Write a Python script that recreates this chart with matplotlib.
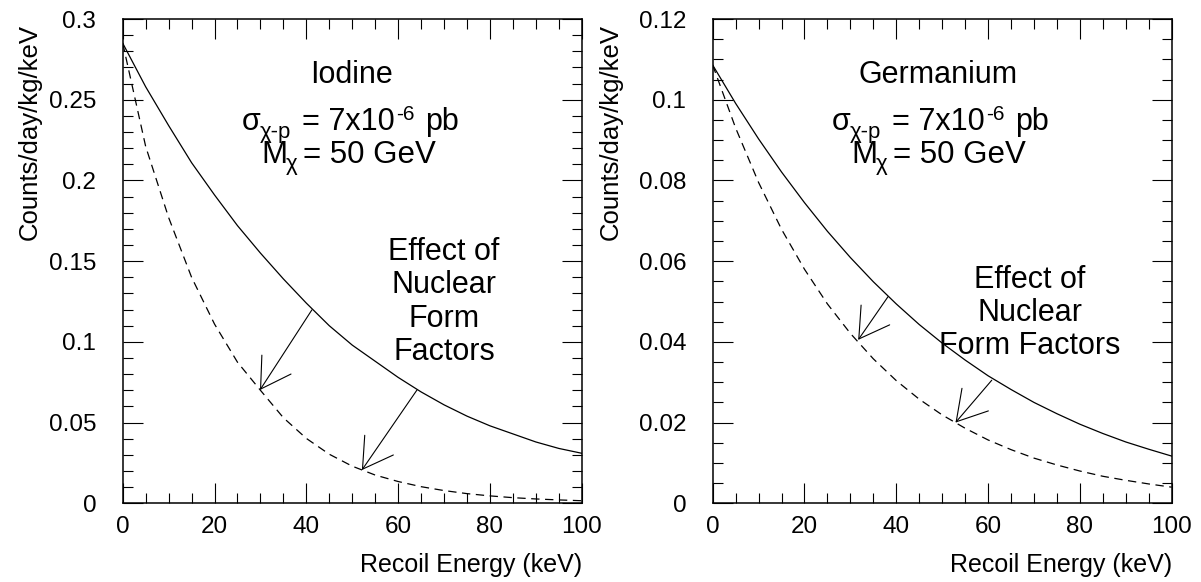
import matplotlib
matplotlib.use("Agg")
import matplotlib.pyplot as plt
from matplotlib.ticker import MultipleLocator, FixedLocator

plt.rcParams['font.family'] = ['Liberation Sans', 'DejaVu Sans']
plt.rcParams['lines.scale_dashes'] = False

# recoil energy grid (keV)
energy = [0, 5, 10, 15, 20, 25, 30, 35, 40, 45, 50,
          55, 60, 65, 70, 75, 80, 85, 90, 95, 100]

# iodine: point-like nucleus vs with nuclear form factor
iodine_point = [0.285, 0.258, 0.234, 0.211, 0.191, 0.172, 0.155, 0.139, 0.124, 0.110, 0.098,
                0.088, 0.078, 0.069, 0.061, 0.054, 0.048, 0.043, 0.038, 0.034, 0.031]
iodine_ff = [0.285, 0.221, 0.177, 0.140, 0.111, 0.0874, 0.070, 0.053, 0.0402, 0.0304, 0.0230,
             0.0175, 0.0135, 0.0103, 0.0079, 0.0060, 0.0046, 0.0035, 0.0027, 0.0021, 0.0016]

# germanium
germanium_point = [0.1086, 0.0991, 0.0903, 0.0821, 0.0745, 0.0674, 0.0609, 0.0549, 0.0494, 0.0443, 0.0397,
                   0.0355, 0.0316, 0.0282, 0.0250, 0.0222, 0.0196, 0.0173, 0.0152, 0.0134, 0.0117]
germanium_ff = [0.1086, 0.0930, 0.0795, 0.0679, 0.0580, 0.0494, 0.0421, 0.0358, 0.0304, 0.0258, 0.0219,
                0.0186, 0.0157, 0.0133, 0.0112, 0.0095, 0.0080, 0.0067, 0.0057, 0.0048, 0.0040]

# arrows: (start on solid curve, tip on dashed curve)
iodine_arrows = [((41.2, 0.1198), (29.9, 0.0702)), ((64.1, 0.0702), (52.1, 0.0206))]
germanium_arrows = [((38.2, 0.0512), (31.7, 0.0405)), ((60.8, 0.0305), (52.9, 0.0200))]

x_ticks = [0, 20, 40, 60, 80, 100]
x_ticklabels = ['0', '20', '40', '60', '80', '100']
iodine_yticks = [0, 0.05, 0.1, 0.15, 0.2, 0.25, 0.3]
iodine_yticklabels = ['0', '0.05', '0.1', '0.15', '0.2', '0.25', '0.3']
germanium_yticks = [0, 0.02, 0.04, 0.06, 0.08, 0.1, 0.12]
germanium_yticklabels = ['0', '0.02', '0.04', '0.06', '0.08', '0.1', '0.12']

# cross-section / mass label, drawn piece by piece (text, x, y, size) in axes fraction
param_pieces = [
    ('σ', 0.2593, 0.7708, 22),
    ('χ-p', 0.2991, 0.7537, 16),
    ('= 7x10', 0.3900, 0.7708, 22),
    ('-6', 0.5960, 0.7914, 15),
    ('pb', 0.6586, 0.7708, 22),
    ('M', 0.3028, 0.7021, 22.5),
    ('χ', 0.3560, 0.6880, 16),
    ('= 50 GeV', 0.3928, 0.7021, 22.5),
]

fig = plt.figure(figsize=(12.01, 5.82), dpi=100)
ax1 = fig.add_axes([0.1022, 0.1352, 0.3822, 0.8321])
ax2 = fig.add_axes([0.5934, 0.1352, 0.3822, 0.8321])


def style_axes(ax, yticks, ylabels, ymax, yminor, label_x):
    ax.set_xlim(0, 100)
    ax.set_ylim(0, ymax)
    ax.xaxis.set_major_locator(FixedLocator(x_ticks))
    ax.set_xticklabels(x_ticklabels)
    ax.xaxis.set_minor_locator(MultipleLocator(5))
    ax.yaxis.set_major_locator(FixedLocator(yticks))
    ax.set_yticklabels(ylabels)
    ax.yaxis.set_minor_locator(MultipleLocator(yminor))
    ax.tick_params(which='both', direction='in', top=True, right=True, width=0.8, colors='black')
    ax.tick_params(which='major', length=14.4, labelsize=17.5)
    ax.tick_params(which='minor', length=7.2)
    ax.tick_params(axis='x', which='major', pad=9)
    ax.tick_params(axis='y', which='major', pad=19)
    for sp in ax.spines.values():
        sp.set_linewidth(1.1)
    ax.set_xlabel('Recoil Energy (keV)', fontsize=18, ha='right', x=1.0, labelpad=11)
    ax.set_ylabel('Counts/day/kg/keV', fontsize=18.5, ha='right', y=1.0)
    ax.yaxis.set_label_coords(label_x, 0.99)


def draw_arrows(ax, arrows):
    for start, tip in arrows:
        ax.annotate('', xy=tip, xytext=start,
                    arrowprops=dict(arrowstyle='->,head_length=2.1,head_width=1.25',
                                    lw=0.8, color='black', shrinkA=0, shrinkB=0,
                                    mutation_scale=10))


def draw_params(ax):
    for txt, x, y, size in param_pieces:
        ax.text(x, y, txt, transform=ax.transAxes, ha='left', va='baseline', fontsize=size)


# left panel: iodine
ax1.plot(energy, iodine_point, color='black', lw=0.9)
ax1.plot(energy, iodine_ff, color='black', lw=0.9, dashes=(6, 4))
draw_arrows(ax1, iodine_arrows)
style_axes(ax1, iodine_yticks, iodine_yticklabels, 0.3, 0.01, -0.176)
ax1.text(0.499, 0.868, 'Iodine', transform=ax1.transAxes, ha='center', va='baseline', fontsize=22)
draw_params(ax1)
ax1.text(0.70, 0.416, 'Effect of\nNuclear\nForm\nFactors', transform=ax1.transAxes,
         ha='center', va='center', fontsize=22, linespacing=1.15)

# right panel: germanium
ax2.plot(energy, germanium_point, color='black', lw=0.9)
ax2.plot(energy, germanium_ff, color='black', lw=0.9, dashes=(6, 4))
draw_arrows(ax2, germanium_arrows)
style_axes(ax2, germanium_yticks, germanium_yticklabels, 0.12, 0.005, -0.196)
ax2.text(0.49, 0.868, 'Germanium', transform=ax2.transAxes, ha='center', va='baseline', fontsize=22)
draw_params(ax2)
ax2.text(0.691, 0.393, 'Effect of\nNuclear\nForm Factors', transform=ax2.transAxes,
         ha='center', va='center', fontsize=22, linespacing=1.15)

fig.savefig('out.png', dpi=100)
